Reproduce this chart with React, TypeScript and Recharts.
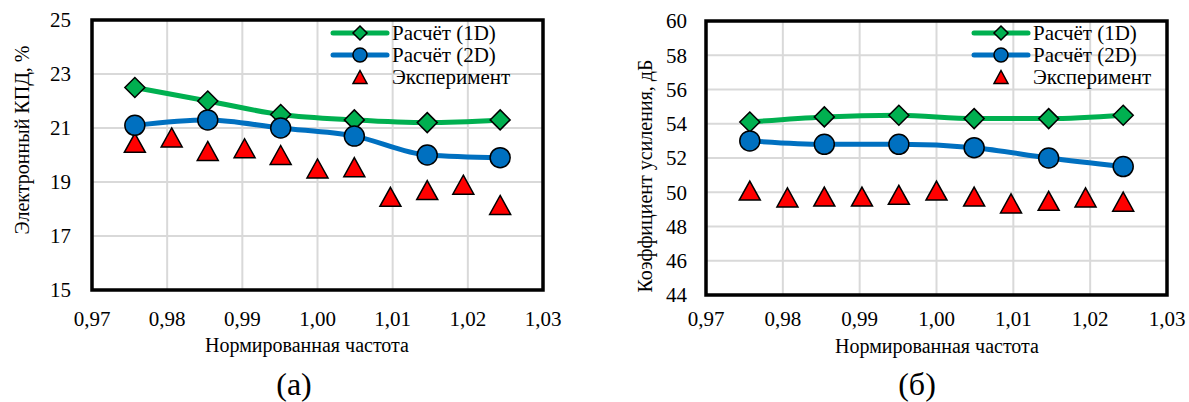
import React from "react";
import {
  CartesianGrid,
  ComposedChart,
  Label,
  Legend,
  Line,
  ReferenceArea,
  Scatter,
  XAxis,
  YAxis,
} from "recharts";

// normalised frequency (x) for the computed curves and for the measured points
const freqCalc = [0.9757, 0.9854, 0.9951, 1.0049, 1.0146, 1.0243];
const freqExp = [0.9757, 0.9806, 0.9854, 0.9903, 0.9951, 1.0, 1.0049, 1.0097, 1.0146, 1.0194, 1.0243];
const freqTicks = [0.97, 0.98, 0.99, 1.0, 1.01, 1.02, 1.03];

// (а) electronic efficiency, %
const eff1D = [22.5, 22.0, 21.5, 21.3, 21.2, 21.3];
const eff2D = [21.1, 21.3, 21.0, 20.7, 20.0, 19.9];
const effExp = [20.45, 20.65, 20.15, 20.25, 20.0, 19.5, 19.55, 18.45, 18.7, 18.9, 18.15];
const effTicks = [15, 17, 19, 21, 23, 25];

// (б) gain, dB
const gain1D = [54.1, 54.4, 54.5, 54.3, 54.3, 54.5];
const gain2D = [53.0, 52.8, 52.8, 52.6, 52.0, 51.5];
const gainExp = [50.1, 49.7, 49.75, 49.75, 49.85, 50.1, 49.75, 49.35, 49.5, 49.7, 49.45];
const gainTicks = [44, 46, 48, 50, 52, 54, 56, 58, 60];

const seriesNames = ["Расчёт (1D)", "Расчёт (2D)", "Эксперимент"];
const xTitle = "Нормированная частота";

const FONT = "Liberation Serif, Tinos, DejaVu Serif, Noto Serif, serif";
const GREEN = "#00b050";
const BLUE = "#0070c0";
const RED = "#ff0000";
const H = 402;

const toPoints = (xs: number[], ys: number[]) => xs.map((f, i) => ({ f, v: ys[i] }));
const fmt = (v: number) => v.toFixed(2).replace(".", ",");

const Diamond = ({ cx, cy, r = 10 }: any) => (
  <polygon
    points={`${cx},${cy - r} ${cx + r},${cy} ${cx},${cy + r} ${cx - r},${cy}`}
    fill={GREEN}
    stroke="#000"
    strokeWidth={1.5}
  />
);

const Circle = ({ cx, cy, r = 10 }: any) => (
  <circle cx={cx} cy={cy} r={r} fill={BLUE} stroke="#000" strokeWidth={1.5} />
);

const Triangle = ({ cx, cy, w = 21, h = 19 }: any) => (
  <polygon
    points={`${cx},${cy - h / 2} ${cx + w / 2},${cy + h / 2} ${cx - w / 2},${cy + h / 2}`}
    fill={RED}
    stroke="#000"
    strokeWidth={1.5}
  />
);

function LegendBox() {
  const markers = [
    <Diamond cx={30} cy={11} r={7} />,
    <Circle cx={30} cy={11} r={7} />,
    <Triangle cx={30} cy={11} w={14} h={13} />,
  ];
  const colors = [GREEN, BLUE, null];
  return (
    <div style={{ fontFamily: FONT, fontSize: 21, color: "#000", lineHeight: "22px" }}>
      {seriesNames.map((name, i) => (
        <div key={name} style={{ display: "flex", alignItems: "center", height: 22 }}>
          <svg width={60} height={22}>
            {colors[i] && (
              <line x1={3} x2={57} y1={11} y2={11} stroke={colors[i]!} strokeWidth={5} strokeLinecap="round" />
            )}
            {markers[i]}
          </svg>
          <span style={{ marginLeft: 2, whiteSpace: "nowrap" }}>{name}</span>
        </div>
      ))}
    </div>
  );
}

type PanelProps = {
  width: number;
  plotLeft: number;
  plotRight: number;
  plotTop: number;
  plotBottom: number;
  yDomain: [number, number];
  yTicks: number[];
  calc1: number[];
  calc2: number[];
  exp: number[];
  yTitle: string;
  yTitleX: number;
  yTitleY: number;
  xTitleX: number;
  xTitleY: number;
  legendLeft: number;
  yTickGap: number;
  xTickGap: number;
};

function Panel(p: PanelProps) {
  const tickStyle = { fontFamily: FONT, fontSize: 21, fill: "#000" };
  return (
    <ComposedChart
      width={p.width}
      height={H}
      margin={{ top: p.plotTop, right: p.width - p.plotRight, bottom: H - p.plotBottom - 40, left: 0 }}
    >
      <CartesianGrid stroke="#d9d9d9" strokeWidth={2} />
      <XAxis
        type="number"
        dataKey="f"
        domain={[0.97, 1.03]}
        ticks={freqTicks}
        tickFormatter={fmt}
        allowDataOverflow
        height={40}
        axisLine={false}
        tickLine={false}
        tickSize={0}
        tickMargin={p.xTickGap}
        tick={tickStyle}
        interval={0}
      >
        <Label
          content={() => (
            <text x={p.xTitleX} y={p.xTitleY} textAnchor="middle" dominantBaseline="central" fontFamily={FONT} fontSize={20}>
              {xTitle}
            </text>
          )}
        />
      </XAxis>
      <YAxis
        type="number"
        domain={p.yDomain}
        ticks={p.yTicks}
        width={p.plotLeft}
        axisLine={false}
        tickLine={false}
        tickSize={0}
        tickMargin={p.yTickGap}
        tick={tickStyle}
        interval={0}
      >
        <Label
          content={() => (
            <text
              x={p.yTitleX}
              y={p.yTitleY}
              transform={`rotate(-90, ${p.yTitleX}, ${p.yTitleY})`}
              textAnchor="middle"
              dominantBaseline="central"
              fontFamily={FONT}
              fontSize={20}
            >
              {p.yTitle}
            </text>
          )}
        />
      </YAxis>
      <ReferenceArea
        x1={0.97}
        x2={1.03}
        y1={p.yDomain[0]}
        y2={p.yDomain[1]}
        fill="none"
        stroke="#000"
        strokeWidth={3.5}
      />
      <Line
        data={toPoints(freqCalc, p.calc1)}
        dataKey="v"
        type="monotone"
        stroke={GREEN}
        strokeWidth={5}
        dot={(d: any) => <Diamond key={`d${d.index}`} cx={d.cx} cy={d.cy} />}
        activeDot={false}
        isAnimationActive={false}
      />
      <Line
        data={toPoints(freqCalc, p.calc2)}
        dataKey="v"
        type="monotone"
        stroke={BLUE}
        strokeWidth={5}
        dot={(d: any) => <Circle key={`c${d.index}`} cx={d.cx} cy={d.cy} />}
        activeDot={false}
        isAnimationActive={false}
      />
      <Scatter
        data={toPoints(freqExp, p.exp)}
        dataKey="v"
        shape={(d: any) => <Triangle cx={d.cx} cy={d.cy} />}
        isAnimationActive={false}
      />
      <Legend
        layout="horizontal"
        verticalAlign="middle"
        align="center"
        content={() => <LegendBox />}
        wrapperStyle={{ left: p.legendLeft, top: 22, width: "auto", height: "auto" }}
      />
    </ComposedChart>
  );
}

export default function App() {
  const captionStyle: React.CSSProperties = {
    position: "absolute",
    top: 368,
    fontFamily: FONT,
    fontSize: 32,
    lineHeight: "32px",
    width: 80,
    textAlign: "center",
  };
  return (
    <div style={{ position: "absolute", left: 0, top: 0, width: 1189, height: H, background: "#fff" }}>
      <div style={{ position: "absolute", left: 0, top: 0 }}>
        <Panel
          width={590}
          plotLeft={92}
          plotRight={543}
          plotTop={20}
          plotBottom={290}
          yDomain={[15, 25]}
          yTicks={effTicks}
          calc1={eff1D}
          calc2={eff2D}
          exp={effExp}
          yTitle="Электронный КПД, %"
          yTitleX={22}
          yTitleY={140}
          xTitleX={307}
          xTitleY={345}
          legendLeft={330}
          yTickGap={21}
          xTickGap={21}
        />
      </div>
      <div style={{ position: "absolute", left: 594, top: 0 }}>
        <Panel
          width={595}
          plotLeft={112}
          plotRight={573}
          plotTop={21}
          plotBottom={295}
          yDomain={[44, 60]}
          yTicks={gainTicks}
          calc1={gain1D}
          calc2={gain2D}
          exp={gainExp}
          yTitle="Коэффициент усиления, дБ"
          yTitleX={51}
          yTitleY={176}
          xTitleX={343}
          xTitleY={346}
          legendLeft={377}
          yTickGap={19}
          xTickGap={16}
        />
      </div>
      <div style={{ ...captionStyle, left: 254 }}>(а)</div>
      <div style={{ ...captionStyle, left: 877 }}>(б)</div>
    </div>
  );
}
